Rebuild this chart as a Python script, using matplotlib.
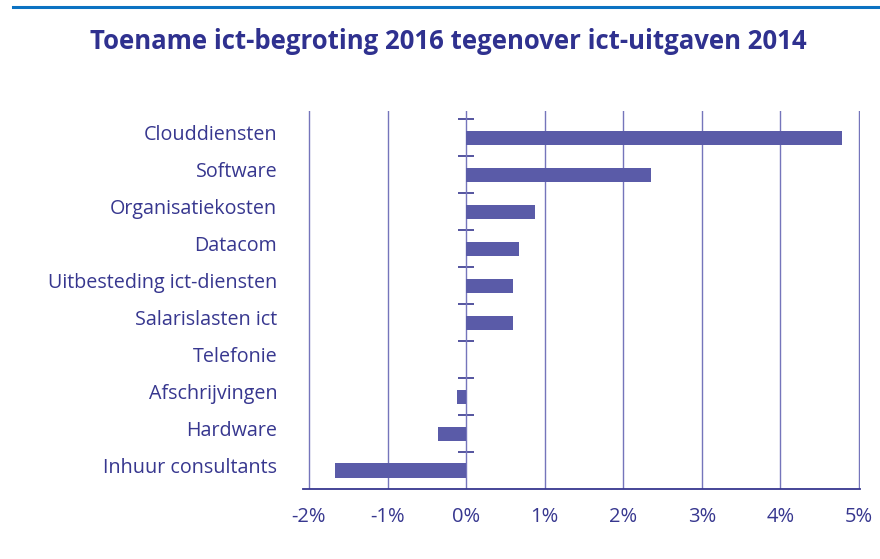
import matplotlib.pyplot as plt
import numpy as np
from matplotlib.lines import Line2D
from matplotlib.ticker import FixedLocator
from matplotlib.transforms import ScaledTranslation

plt.rcParams['font.family'] = ['Open Sans', 'DejaVu Sans']

categories = ["Inhuur consultants", "Hardware", "Afschrijvingen", "Telefonie",
              "Salarislasten ict", "Uitbesteding ict-diensten", "Datacom",
              "Organisatiekosten", "Software", "Clouddiensten"]
toename = [-1.67, -0.36, -0.12, 0.0, 0.60, 0.60, 0.67, 0.87, 2.35, 4.78]
xticks = [-2, -1, 0, 1, 2, 3, 4, 5]
xlabels = ["-2%", "-1%", "0%", "1%", "2%", "3%", "4%", "5%"]

txt = "#37378f"
title_col = "#2f318f"
bar_col = "#5a5ba8"
grid_col = "#7575bb"

fig = plt.figure(figsize=(8.8, 5.59), dpi=100)
ax = fig.add_axes([0.3443, 0.1252, 0.6330, 0.6762])

y = np.arange(len(categories))
ax.barh(y, toename, height=0.38, color=bar_col, zorder=3)

ax.set_xlim(-2.076, 5.012)
ax.set_ylim(-0.5, 9.72)

ax.set_xticks(xticks)
ax.set_xticklabels(xlabels)
ax.tick_params(axis='x', length=0, pad=13, labelsize=14.5, labelcolor=txt)
ax.xaxis.grid(True, color=grid_col, linewidth=1.0, zorder=1)

ax.set_yticks(y)
ax.set_yticklabels(categories)
ax.tick_params(axis='y', length=0, pad=18.5, labelsize=14.2, labelcolor=txt)
# category names sit a little above the bar centres
shift = ScaledTranslation(0, 0.055, fig.dpi_scale_trans)
for lab in ax.get_yticklabels():
    lab.set_transform(lab.get_transform() + shift)

for s in ['top', 'right', 'left']:
    ax.spines[s].set_visible(False)
ax.spines['bottom'].set_color(txt)
ax.spines['bottom'].set_linewidth(1.3)

# small separators between categories on the zero line
xmin, xmax = ax.get_xlim()
sec = ax.secondary_yaxis((0 - xmin) / (xmax - xmin))
sec.spines['right'].set_visible(False)
sec.spines['left'].set_visible(False)
sec.yaxis.set_major_locator(FixedLocator(list(np.arange(0.5, len(categories), 1.0))))
sec.tick_params(axis='y', direction='inout', length=12, width=1.2, color=txt,
                labelleft=False, labelright=False)

fig.text(0.509, 0.926, "Toename ict-begroting 2016 tegenover ict-uitgaven 2014",
         ha='center', va='center', fontsize=18.5, fontweight='bold', color=title_col)
fig.add_artist(Line2D([0.0145, 1.0], [0.987, 0.987], transform=fig.transFigure,
                      color="#0b72c2", linewidth=2.2))

fig.savefig("out.png", dpi=100)
